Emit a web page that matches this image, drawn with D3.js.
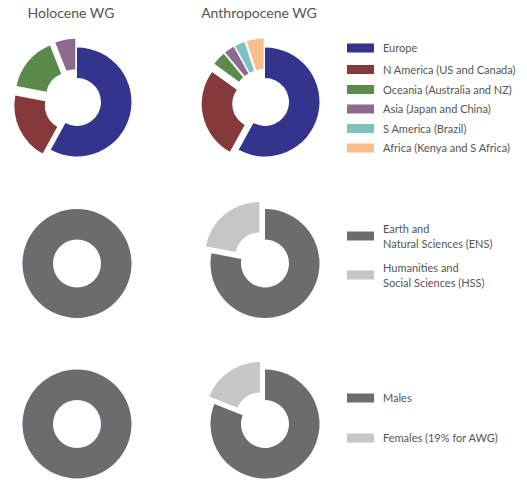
<!DOCTYPE html>
<html>
<head>
<meta charset="utf-8">
<script src="https://cdn.jsdelivr.net/npm/d3@7"></script>
<style>
  body { margin: 0; background: #fff; }
  text { font-family: Lato, "Open Sans", sans-serif; fill: #555; }
</style>
</head>
<body>
<div id="chart"></div>
<script>
// column titles
const columns = ["Holocene WG", "Anthropocene WG"];

// row 1: region of affiliation
const regions = ["Europe", "N America (US and Canada)", "Oceania (Australia and NZ)",
  "Asia (Japan and China)", "S America (Brazil)", "Africa (Kenya and S Africa)"];
const holoceneRegions = [58, 20, 16, 6, 0, 0];
const anthropoceneRegions = [58, 27, 4, 3, 3, 5];

// row 2: discipline
const disciplines = [["Earth and", "Natural Sciences (ENS)"], ["Humanities and", "Social Sciences (HSS)"]];
const holoceneDisciplines = [100, 0];
const anthropoceneDisciplines = [78, 22];

// row 3: gender
const genders = [["Males"], ["Females (19% for AWG)"]];
const holoceneGenders = [100, 0];
const anthropoceneGenders = [81, 19];

const regionColor = d3.scaleOrdinal()
  .domain(d3.range(regions.length))
  .range(["#34348e", "#86393b", "#5b8a4c", "#8c6b8c", "#7fc0c0", "#f6bd8d"]);
const greyColor = d3.scaleOrdinal()
  .domain([0, 1])
  .range(["#6b6b70", "#c5c6c8"]);

const width = 527, height = 481;
const svg = d3.select('#chart').append('svg')
  .attr('width', width)
  .attr('height', height);

const colX = d3.scalePoint().domain(columns).range([77, 265]);
const rowY = [102, 263.5, 424];
const outerR = 54.5, innerR = 24, explode = 9;

const pie = d3.pie().sort(null).value(d => d);
const arc = d3.arc().innerRadius(innerR).outerRadius(outerR);

svg.selectAll('text.title')
  .data(columns)
  .enter().append('text')
  .attr('class', 'title')
  .attr('x', d => colX(d) - 6)
  .attr('y', 18)
  .attr('text-anchor', 'middle')
  .style('font-size', '14px')
  .text(d => d);

const rows = [
  { values: [holoceneRegions, anthropoceneRegions], color: regionColor },
  { values: [holoceneDisciplines, anthropoceneDisciplines], color: greyColor },
  { values: [holoceneGenders, anthropoceneGenders], color: greyColor }
];

rows.forEach(function(row, r) {
  row.values.forEach(function(vals, c) {
    let g = svg.append('g')
      .attr('transform', "translate(" + colX(columns[c]) + "," + rowY[r] + ")");
    let slices = pie(vals).filter(d => d.value > 0);
    g.selectAll('path')
      .data(slices)
      .enter().append('path')
      .attr('d', arc)
      .attr('fill', d => row.color(d.index))
      .attr('transform', function(d) {
        // pull every slice but the first out of the ring
        if (d.index == 0 || slices.length == 1) return null;
        let mid = (d.startAngle + d.endAngle) / 2;
        return "translate(" + (Math.sin(mid) * explode) + "," + (-Math.cos(mid) * explode) + ")";
      });
  });
});

// legends
function legend(items, ys, color, lineGap) {
  let item = svg.selectAll(null)
    .data(items)
    .enter().append('g')
    .attr('transform', (d, i) => "translate(347," + ys[i] + ")");
  item.append('rect')
    .attr('x', 0)
    .attr('y', -4.5)
    .attr('width', 27)
    .attr('height', 9)
    .attr('fill', (d, i) => color(i));
  item.append('text')
    .attr('x', 36)
    .attr('y', function(d) {
      let lines = Array.isArray(d) ? d.length : 1;
      return 4 - (lines - 1) * lineGap / 2;
    })
    .style('font-size', '11px')
    .each(function(d) {
      let lines = Array.isArray(d) ? d : [d];
      let t = d3.select(this);
      lines.forEach(function(line, k) {
        t.append('tspan')
          .attr('x', 36)
          .attr('dy', k == 0 ? 0 : lineGap)
          .text(line);
      });
    });
}

legend(regions, [48, 69.5, 89.5, 109, 128.5, 148], regionColor, 15);
legend(disciplines, [236, 275], greyColor, 15);
legend(genders, [398, 438], greyColor, 15);
</script>
</body>
</html>
